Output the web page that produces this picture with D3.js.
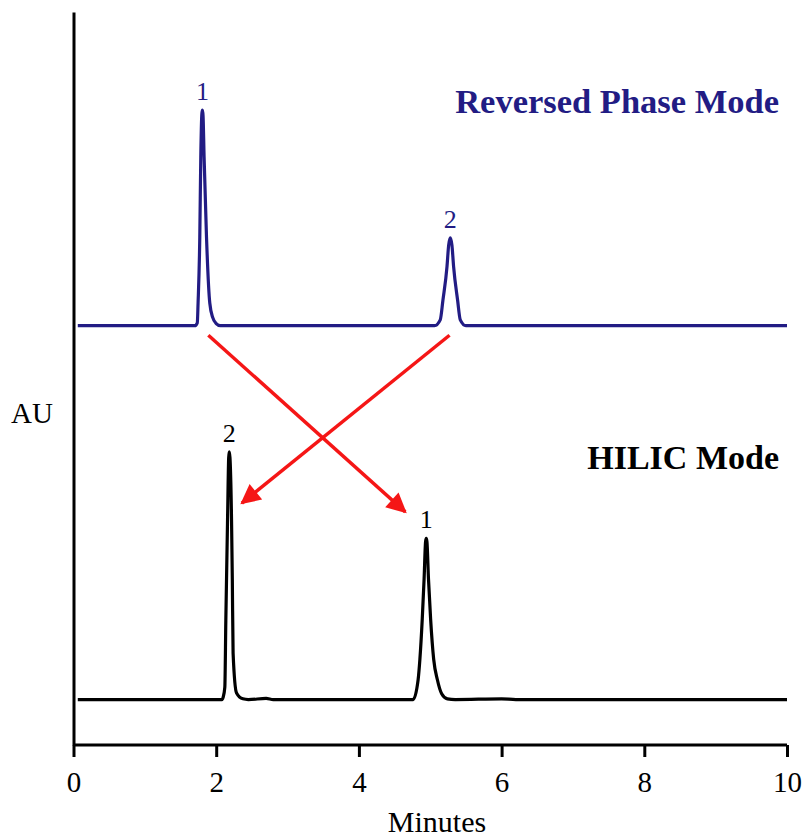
<!DOCTYPE html>
<html>
<head>
<meta charset="utf-8">
<script src="https://cdn.jsdelivr.net/npm/d3@7"></script>
<style>
  html, body { margin: 0; padding: 0; background: #fff; }
  svg { display: block; }
  svg text { font-family: "Liberation Serif", "Times New Roman", "DejaVu Serif", serif; }
</style>
</head>
<body>
<svg id="chart" width="809" height="837"></svg>
<script>
// Chromatogram traces: [time (min), detector signal above the trace baseline (AU, arbitrary units)]
const reversedPhase = [
  [0.06, 0], [1.70, 0], [1.735, 0.4], [1.746, 3.1], [1.770, 12.1], [1.784, 23.1],
  [1.800, 29.0], [1.808, 29.4], [1.816, 28.6], [1.830, 23.1], [1.864, 12.1],
  [1.910, 3.1], [1.952, 1.1], [2.00, 0.3], [2.06, 0],
  [5.06, 0], [5.14, 0.8], [5.178, 3.5], [5.235, 8.1], [5.258, 11.0], [5.281, 12.0],
  [5.304, 11.0], [5.327, 8.1], [5.383, 3.5], [5.421, 0.8], [5.50, 0], [10, 0]
];
const hilic = [
  [0.06, 0], [2.08, 0], [2.097, 0.3], [2.121, 1.7], [2.135, 10.8], [2.159, 24.5],
  [2.175, 33.0], [2.183, 33.8], [2.193, 33.0], [2.215, 24.5], [2.226, 16.3],
  [2.237, 6.3], [2.285, 0.9], [2.374, 0.1], [2.45, 0], [2.70, 0.15], [2.80, 0],
  [4.76, 0], [4.830, 2.7], [4.855, 5.5], [4.888, 11.0], [4.914, 16.5], [4.934, 21.5],
  [4.944, 22.0], [4.954, 21.5], [4.975, 16.5], [5.005, 11.0], [5.048, 5.5],
  [5.100, 2.7], [5.16, 0.8], [5.24, 0.1], [5.35, 0], [6.0, 0.1], [6.2, 0], [10, 0]
];

// Vertical offsets of the two stacked traces (AU)
const traceOffsets = { reversedPhase: 57.2, hilic: 6.2 };

// Peak numbers: [time, signal at apex, label]
const rpPeaks = [[1.808, 29.4, "1"], [5.281, 12.0, "2"]];
const hilicPeaks = [[2.183, 33.8, "2"], [4.944, 22.0, "1"]];

// Elution-order arrows: from RP peak to HILIC peak, [t0, au0, t1, au1]
const arrows = [
  [1.89, 55.9, 4.65, 31.8],
  [5.27, 55.9, 2.36, 33.0]
];

const xTicks = [0, 2, 4, 6, 8, 10];
const xDomain = [0, 10];
const yDomain = [0, 100];

const navy = "#221c84";
const red = "#f51616";
const serif = '"Liberation Serif", "Times New Roman", serif';

const svg = d3.select("#chart");
const x = d3.scaleLinear().domain(xDomain).range([73.5, 787]);
const y = d3.scaleLinear().domain(yDomain).range([745, 12]);

// Arrowhead marker
svg.append("defs").append("marker")
  .attr("id", "head")
  .attr("viewBox", "0 0 10 10")
  .attr("refX", 9).attr("refY", 5)
  .attr("markerUnits", "userSpaceOnUse")
  .attr("markerWidth", 24).attr("markerHeight", 20)
  .attr("orient", "auto")
  .append("path")
  .attr("d", "M0,0 L10,5 L0,10 Z")
  .attr("fill", red);

// Axes
const xAxis = d3.axisBottom(x).tickValues(xTicks).tickSize(12).tickPadding(14)
  .tickFormat(d3.format("d"));
const gx = svg.append("g").attr("transform", `translate(0,${y(0)})`).call(xAxis)
  .attr("font-family", serif);
gx.select(".domain").attr("stroke", "#000").attr("stroke-width", 3)
  .attr("d", `M${x(0)},0H${x(10)}`);
gx.selectAll(".tick line").attr("stroke", "#000").attr("stroke-width", 3);
gx.selectAll(".tick text")
  .attr("font-size", 29).attr("fill", "#000");

const yAxis = d3.axisLeft(y).tickValues([]).tickSizeOuter(0);
const gy = svg.append("g").attr("transform", `translate(${x(0)},0)`).call(yAxis);
gy.select(".domain").attr("stroke", "#000").attr("stroke-width", 3);

// Traces
const line = off => d3.line()
  .x(d => x(d[0]))
  .y(d => y(d[1] + off))
  .curve(d3.curveMonotoneX);

svg.append("path").datum(reversedPhase)
  .attr("d", line(traceOffsets.reversedPhase))
  .attr("fill", "none").attr("stroke", navy)
  .attr("stroke-width", 3.2).attr("stroke-linejoin", "round");

svg.append("path").datum(hilic)
  .attr("d", line(traceOffsets.hilic))
  .attr("fill", "none").attr("stroke", "#000")
  .attr("stroke-width", 3.2).attr("stroke-linejoin", "round");

// Peak labels
svg.selectAll(".rp-label").data(rpPeaks).enter().append("text")
  .attr("x", d => x(d[0]))
  .attr("y", d => y(d[1] + traceOffsets.reversedPhase) - 10)
  .attr("text-anchor", "middle").attr("font-size", 26).attr("fill", navy)
  .text(d => d[2]);

svg.selectAll(".hl-label").data(hilicPeaks).enter().append("text")
  .attr("x", d => x(d[0]))
  .attr("y", d => y(d[1] + traceOffsets.hilic) - 10)
  .attr("text-anchor", "middle").attr("font-size", 26).attr("fill", "#000")
  .text(d => d[2]);

// Arrows
svg.selectAll(".arrow").data(arrows).enter().append("line")
  .attr("x1", d => x(d[0])).attr("y1", d => y(d[1]))
  .attr("x2", d => x(d[2])).attr("y2", d => y(d[3]))
  .attr("stroke", red).attr("stroke-width", 3.5)
  .attr("marker-end", "url(#head)");

// Mode titles
svg.append("text").attr("x", 779).attr("y", 113)
  .attr("text-anchor", "end").attr("font-size", 34.5).attr("font-weight", "bold")
  .attr("fill", navy).text("Reversed Phase Mode");
svg.append("text").attr("x", 779).attr("y", 469)
  .attr("text-anchor", "end").attr("font-size", 34).attr("font-weight", "bold")
  .attr("fill", "#000").text("HILIC Mode");

// Axis titles
svg.append("text").attr("x", 11).attr("y", 423)
  .attr("font-size", 29).attr("fill", "#000").text("AU");
svg.append("text").attr("x", 437).attr("y", 832)
  .attr("text-anchor", "middle").attr("font-size", 30).attr("fill", "#000").text("Minutes");
</script>
</body>
</html>
